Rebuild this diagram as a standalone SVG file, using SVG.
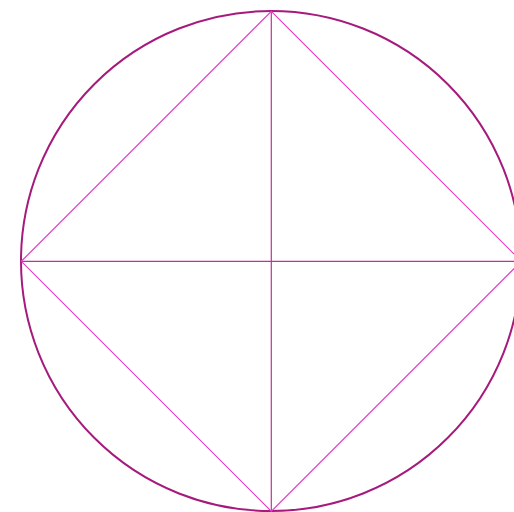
<svg xmlns="http://www.w3.org/2000/svg" width="514" height="512" viewBox="0 0 514 512">
<style>
.circ{fill:none;stroke:#a51a7c;stroke-width:2}
.diag{fill:none;stroke:#e23cc4;stroke-width:1.2}
.axis{fill:none;stroke:#c22ea0;stroke-width:1.2}
</style>
<rect width="514" height="512" fill="#fff"/>
<g id="circle"><circle class="circ" cx="271" cy="261" r="250"/></g>
<g id="connectors">
<line class="axis" x1="271.3" y1="12" x2="271.3" y2="510"/>
<line class="axis" x1="21" y1="261.3" x2="521" y2="261.3"/>
<polygon class="diag" points="271.3,11.3 521.3,261.3 271.3,511.3 21.3,261.3"/>
</g>
</svg>
